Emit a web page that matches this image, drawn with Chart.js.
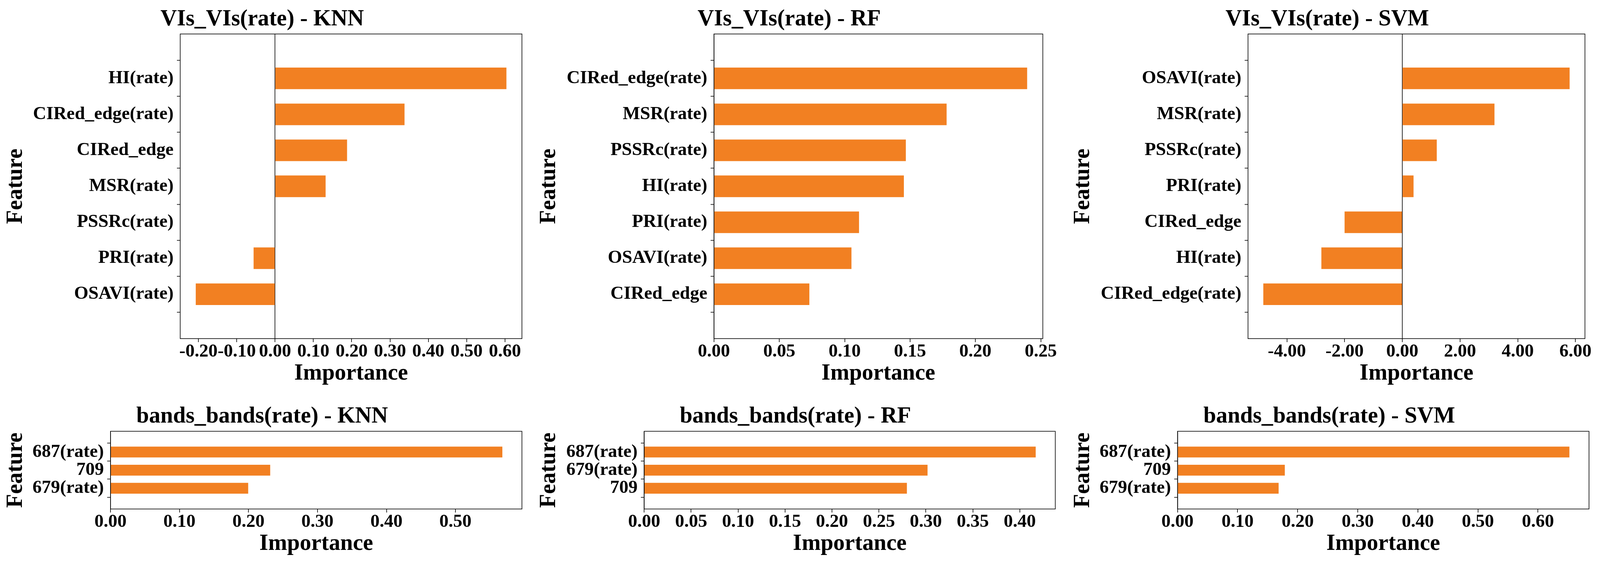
<!DOCTYPE html>
<html>
<head>
<meta charset="utf-8">
<title>Feature importance</title>
<script src="https://cdn.jsdelivr.net/npm/chart.js@4.4.1/dist/chart.umd.min.js"></script>
<style>
  html, body { margin: 0; padding: 0; background: #fff; overflow: hidden; }
  #fig { position: relative; overflow: hidden; background: #fff; }
  #fig canvas { position: absolute; }
</style>
</head>
<body>
<div id="fig"></div>
<script>
// ---- data ----
const knnVisCategories = ["HI(rate)", "CIRed_edge(rate)", "CIRed_edge", "MSR(rate)", "PSSRc(rate)", "PRI(rate)", "OSAVI(rate)"];
const knnVisValues = [0.604, 0.338, 0.188, 0.132, 0.0, -0.056, -0.207];

const rfVisCategories = ["CIRed_edge(rate)", "MSR(rate)", "PSSRc(rate)", "HI(rate)", "PRI(rate)", "OSAVI(rate)", "CIRed_edge"];
const rfVisValues = [0.2396, 0.178, 0.1468, 0.1453, 0.111, 0.1052, 0.073];

const svmVisCategories = ["OSAVI(rate)", "MSR(rate)", "PSSRc(rate)", "PRI(rate)", "CIRed_edge", "HI(rate)", "CIRed_edge(rate)"];
const svmVisValues = [5.8, 3.195, 1.195, 0.39, -2.0, -2.805, -4.817];

const knnBandCategories = ["687(rate)", "709", "679(rate)"];
const knnBandValues = [0.568, 0.2315, 0.1996];

const rfBandCategories = ["687(rate)", "679(rate)", "709"];
const rfBandValues = [0.417, 0.3018, 0.2798];

const svmBandCategories = ["687(rate)", "709", "679(rate)"];
const svmBandValues = [0.6523, 0.1786, 0.1683];

const titles = [
  "VIs_VIs(rate) - KNN", "VIs_VIs(rate) - RF", "VIs_VIs(rate) - SVM",
  "bands_bands(rate) - KNN", "bands_bands(rate) - RF", "bands_bands(rate) - SVM"
];
const tickSteps = [0.1, 0.05, 2, 0.1, 0.05, 0.1];
const categories = [knnVisCategories, rfVisCategories, svmVisCategories, knnBandCategories, rfBandCategories, svmBandCategories];
const values = [knnVisValues, rfVisValues, svmVisValues, knnBandValues, rfBandValues, svmBandValues];

// ---- layout in figure pixels: plot box of each panel and x of the "Feature" label ----
const FIG_W = 4359, FIG_H = 1462;
const LAYOUT = [
  { l: 491,  r: 1422, t: 87,     b: 867,    fx: 44 },
  { l: 1945, r: 2841, t: 87,     b: 867,    fx: 1496 },
  { l: 3400, r: 4318, t: 87,     b: 867,    fx: 2951 },
  { l: 301,  r: 1422, t: 1104.3, b: 1303.3, fx: 44 },
  { l: 1755, r: 2875, t: 1104.3, b: 1303.3, fx: 1496 },
  { l: 3208, r: 4329, t: 1104.3, b: 1303.3, fx: 2951 }
];

// the window is narrower than the figure, so map figure px onto the viewport
const SX = Math.min(1, window.innerWidth / FIG_W) || 1;
const SY = Math.min(1, window.innerHeight / FIG_H) || 1;
const sx = (v) => v * SX;
const sy = (v) => v * SY;

const BAR_COLOR = "#f28022";
const FONT = "'Liberation Serif', 'Times New Roman', serif";
const TICK_SIZE = sx(50);
const LABEL_SIZE = sx(62);
const LABEL_LH = LABEL_SIZE * 1.2;
const TICK_LH = TICK_SIZE * 1.2;
const LINE_W = 1.6;

Chart.defaults.font.family = FONT;
Chart.defaults.font.weight = "bold";
Chart.defaults.color = "#000";

const fig = document.getElementById("fig");
fig.style.width = sx(FIG_W) + "px";
fig.style.height = sy(FIG_H) + "px";

// matplotlib-like limits: 5% margins, sticky at zero
function xLimits(vals) {
  const lo = Math.min(0, ...vals);
  const hi = Math.max(0, ...vals);
  const m = 0.05 * (hi - lo);
  return [lo < 0 ? lo - m : 0, hi > 0 ? hi + m : 0];
}

function yLimits(n) {
  const m = 0.05 * (n - 1 + 0.6);
  return [-0.3 - m, n - 1 + 0.3 + m];
}

function fmt(v) {
  if (Math.abs(v) < 1e-9) v = 0;
  return v.toFixed(2);
}

// box around the plot area
const framePlugin = {
  id: "frame",
  afterDraw(chart) {
    const { ctx, chartArea: a } = chart;
    ctx.save();
    ctx.strokeStyle = "#000";
    ctx.lineWidth = LINE_W;
    ctx.strokeRect(a.left, a.top, a.right - a.left, a.bottom - a.top);
    ctx.restore();
  }
};

function makeChart(i) {
  const box = LAYOUT[i];
  const cats = categories[i];
  const vals = values[i];
  const step = tickSteps[i];

  const L = sx(box.l), R = sx(box.r), T = sy(box.t), B = sy(box.b);
  // title middle sits 37px (figure) above the plot
  const titleMid = sy(37.2);
  const titleBottomPad = Math.max(0, titleMid - LABEL_LH / 2);
  const y0 = Math.floor(T - titleBottomPad - LABEL_LH);
  const titleTopPad = T - y0 - LABEL_LH - titleBottomPad;
  const x0 = Math.round(sx(box.fx) - LABEL_LH / 2);
  const yAxisW = L - x0;
  const xAxisH = sy(89.8) + LABEL_LH / 2;
  const xTickPad = sy(34) - TICK_LH / 2 - sy(9);
  const rightPad = sx(70);
  const w = Math.round(yAxisW + (R - L) + rightPad);
  const h = Math.round(B - y0 + xAxisH);

  const canvas = document.createElement("canvas");
  canvas.width = w;
  canvas.height = h;
  canvas.style.left = x0 + "px";
  canvas.style.top = y0 + "px";
  canvas.style.width = w + "px";
  canvas.style.height = h + "px";
  fig.appendChild(canvas);

  const [xmin, xmax] = xLimits(vals);
  const [ymin, ymax] = yLimits(cats.length);

  return new Chart(canvas.getContext("2d"), {
    type: "bar",
    data: {
      datasets: [{
        data: vals.map((v, k) => ({ x: v, y: k })),
        backgroundColor: BAR_COLOR,
        borderWidth: 0,
        categoryPercentage: 1,
        barPercentage: 0.6
      }]
    },
    options: {
      indexAxis: "y",
      responsive: false,
      maintainAspectRatio: false,
      animation: false,
      layout: { padding: { left: 0, top: 0, bottom: h - (B - y0) - xAxisH, right: w - yAxisW - (R - L) } },
      plugins: {
        legend: { display: false },
        tooltip: { enabled: false },
        title: {
          display: true,
          text: titles[i],
          color: "#000",
          font: { size: LABEL_SIZE, weight: "bold", family: FONT },
          padding: { top: titleTopPad, bottom: titleBottomPad }
        }
      },
      scales: {
        x: {
          type: "linear",
          position: "bottom",
          min: xmin,
          max: xmax,
          afterBuildTicks(scale) {
            const ticks = [];
            const k0 = Math.ceil(xmin / step - 1e-9);
            const k1 = Math.floor(xmax / step + 1e-9);
            for (let k = k0; k <= k1; k++) ticks.push({ value: +(k * step).toFixed(6) });
            scale.ticks = ticks;
          },
          afterFit(scale) {
            scale.height = xAxisH;
            scale.paddingLeft = 0;
            scale.paddingRight = 0;
          },
          ticks: {
            autoSkip: false,
            maxRotation: 0,
            minRotation: 0,
            padding: xTickPad,
            color: "#000",
            font: { size: TICK_SIZE, weight: "bold", family: FONT },
            callback: (v) => fmt(v)
          },
          grid: {
            drawOnChartArea: true,
            drawTicks: true,
            tickLength: sy(9),
            tickColor: "#000",
            tickWidth: LINE_W,
            lineWidth: LINE_W,
            color: (c) => (c.tick && Math.abs(c.tick.value) < 1e-9 ? "#000" : "rgba(0,0,0,0)")
          },
          border: { display: false },
          title: {
            display: true,
            text: "Importance",
            color: "#000",
            font: { size: LABEL_SIZE, weight: "bold", family: FONT },
            padding: 0
          }
        },
        y: {
          type: "linear",
          position: "left",
          reverse: true,
          min: ymin,
          max: ymax,
          afterBuildTicks(scale) {
            scale.ticks = cats.map((c, k) => ({ value: k }));
          },
          afterFit(scale) {
            scale.width = yAxisW;
            scale.paddingTop = 0;
            scale.paddingBottom = 0;
          },
          ticks: {
            autoSkip: false,
            padding: sx(9),
            color: "#000",
            font: { size: TICK_SIZE, weight: "bold", family: FONT },
            callback: (v) => cats[Math.round(v)]
          },
          grid: {
            drawOnChartArea: false,
            drawTicks: true,
            tickLength: sx(9),
            tickColor: "#000",
            tickWidth: LINE_W
          },
          border: { display: false },
          title: {
            display: true,
            text: "Feature",
            color: "#000",
            font: { size: LABEL_SIZE, weight: "bold", family: FONT },
            padding: 0
          }
        }
      }
    },
    plugins: [framePlugin]
  });
}

for (let i = 0; i < LAYOUT.length; i++) makeChart(i);
</script>
</body>
</html>
